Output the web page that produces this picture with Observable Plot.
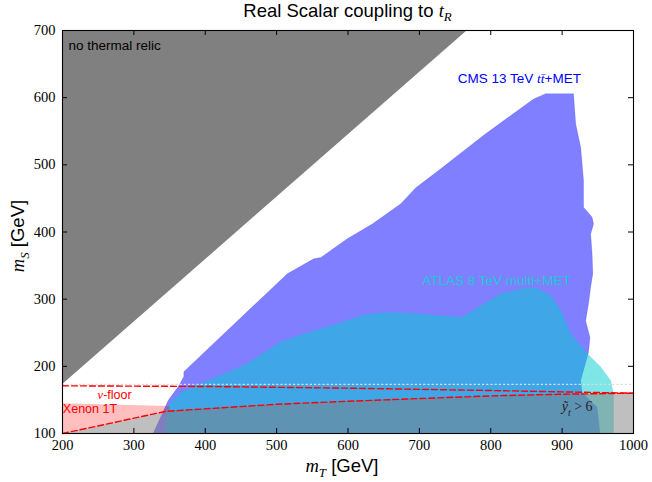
<!DOCTYPE html>
<html>
<head>
<meta charset="utf-8">
<script src="https://cdn.jsdelivr.net/npm/d3@7"></script>
<script src="https://cdn.jsdelivr.net/npm/@observablehq/plot@0.6"></script>
<style>
  body { margin: 0; background: #fff; }
  #title {
    height: 24px; line-height: 24px; padding-left: 62px; width: 571px;
    text-align: center; font: 18.5px "Liberation Sans", Arial, sans-serif; color: #000;
  }
  #title i { font-family: "Liberation Serif", serif; }
  #title sub { font-size: 70%; vertical-align: -0.3em; line-height: 0; font-style: italic; font-family: "Liberation Serif", serif; }
</style>
</head>
<body>
<div id="title">Real Scalar coupling to <i>t</i><sub>R</sub></div>
<div id="chart"></div>
<script>
// Axis ticks
const xTicks = [200, 300, 400, 500, 600, 700, 800, 900, 1000];
const yTicks = [100, 200, 300, 400, 500, 600, 700];

// Region without a thermal relic (m_T, m_S)
const relicMT = [200, 766, 200];
const relicMS = [174, 700, 700];

// CMS 13 TeV tt+MET exclusion contour
const cmsMT = [327, 348, 363, 370, 370, 515, 552, 562, 599, 634, 674, 695, 730, 790, 860, 877, 916,
               919, 926, 930, 930, 942, 944, 940, 942, 943, 940, 937, 933, 939, 937, 926, 928, 949, 953];
const cmsMS = [100, 149, 171, 185, 192, 338, 360, 362, 390, 412, 442, 466, 494, 544, 598, 606, 606,
               561, 526, 477, 437, 422, 412, 397, 368, 338, 318, 293, 268, 243, 221, 179, 161, 139, 100];

// ATLAS 8 TeV multijet+MET exclusion contour
const atlasMT = [344, 347, 354, 370, 393, 417, 459, 505, 538, 585, 622, 650, 688, 716, 760, 814, 842,
                 863, 884, 898, 912, 935, 954, 968, 972, 972];
const atlasMS = [100, 139, 149, 164, 174, 184, 204, 236, 248, 263, 276, 280, 279, 276, 273, 308, 315,
                 317, 305, 283, 248, 219, 199, 179, 159, 100];

// Xenon 1T bound and the neutrino floor
const xenonMT = [200, 345, 500, 600, 700, 800, 900, 1000];
const xenonMS = [100, 133, 143.5, 148, 152, 156, 158.5, 160];
const floorMT = [200, 400, 600, 800, 1000];
const floorMS = [171, 170, 167.5, 164, 160];

// Xenon 1T excluded band
const xenonBandMT = [200, 350, 350, 345, 200];
const xenonBandMS = [145, 141, 133.3, 133, 100];

// Non-perturbative coupling region (y_t > 6)
const perturbMT = [200, 345, 500, 600, 700, 800, 900, 1000, 1000, 200];
const perturbMS = [100, 133, 143.5, 148, 152, 156, 158.5, 160, 100, 100];

// Kinematic threshold
const thresholdMT = [200, 1000];
const thresholdMS = [173, 173];

// Annotations
const notes = [
  {key: "relic", label: "no thermal relic", mT: 208.5, mS: 677.5},
  {key: "cms", label: "CMS 13 TeV tt\u0304+MET", mT: 840, mS: 628.5},
  {key: "atlas", label: "ATLAS 8 TeV multi+MET", mT: 808, mS: 327},
  {key: "floor", label: "\u03bd-floor", mT: 273, mS: 157},
  {key: "xenon", label: "Xenon 1T", mT: 200.5, mS: 136.5},
  {key: "yt", label: "\u1ef9t > 6", mT: 921, mS: 140}
];

const pts = (xs, ys) => xs.map((x, i) => ({x, y: ys[i]}));
const note = k => notes.filter(d => d.key === k);
const sans = "Liberation Sans, Arial, sans-serif";
const serif = "Liberation Serif, serif";

const W = 652, H = 458;
const mL = 62, mR = 19, mT = 6, mB = 49;
const innerW = W - mL - mR, innerH = H - mT - mB;

const chart = Plot.plot({
  width: W, height: H,
  marginLeft: mL, marginRight: mR, marginTop: mT, marginBottom: mB,
  style: "background: white; color: black; overflow: visible;",
  x: {domain: [200, 1000], label: null, axis: null},
  y: {domain: [100, 700], label: null, axis: null},
  marks: [
    Plot.line(pts(relicMT, relicMS), {x: "x", y: "y", fill: "#808080", stroke: "none"}),
    Plot.line(pts(cmsMT, cmsMS), {x: "x", y: "y", fill: "blue", fillOpacity: 0.5, stroke: "blue", strokeOpacity: 0.15, strokeWidth: 1}),
    Plot.line(pts(atlasMT, atlasMS), {x: "x", y: "y", fill: "#00ced1", fillOpacity: 0.5, stroke: "#00ced1", strokeOpacity: 0.15, strokeWidth: 1}),
    Plot.line(pts(xenonBandMT, xenonBandMS), {x: "x", y: "y", fill: "red", fillOpacity: 0.25, stroke: "none"}),
    Plot.line(pts(perturbMT, perturbMS), {x: "x", y: "y", fill: "gray", fillOpacity: 0.5, stroke: "none"}),
    Plot.line(pts(thresholdMT, thresholdMS), {x: "x", y: "y", stroke: "#dcdcdc", strokeWidth: 1.2, strokeDasharray: "1.2,3"}),
    Plot.line(pts(floorMT, floorMS), {x: "x", y: "y", stroke: "red", strokeWidth: 1.4, strokeDasharray: "6,3"}),
    Plot.line(pts(xenonMT, xenonMS), {x: "x", y: "y", stroke: "red", strokeWidth: 1.4, strokeDasharray: "6,3"}),

    Plot.text(note("relic"), {x: "mT", y: "mS", text: "label", textAnchor: "start", fill: "black", fontFamily: sans, fontSize: 13.5}),
    Plot.text(note("cms"), {x: "mT", y: "mS", text: "label", fill: "blue", fontFamily: sans, fontSize: 13.5}),
    Plot.text(note("atlas"), {x: "mT", y: "mS", text: "label", fill: "#1ec8d6", fontFamily: sans, fontSize: 13.5}),
    Plot.text(note("floor"), {x: "mT", y: "mS", text: "label", fill: "red", fontFamily: sans, fontSize: 12.5}),
    Plot.text(note("xenon"), {x: "mT", y: "mS", text: "label", textAnchor: "start", fill: "red", fontFamily: sans, fontSize: 12.5}),
    Plot.text(note("yt"), {x: "mT", y: "mS", text: "label", fill: "#222", fontFamily: serif, fontSize: 14}),

    // inward tick marks on all four sides
    Plot.ruleX(xTicks, {insetTop: innerH - 5, stroke: "black"}),
    Plot.ruleX(xTicks, {insetBottom: innerH - 5, stroke: "black"}),
    Plot.ruleY(yTicks, {insetRight: innerW - 5, stroke: "black"}),
    Plot.ruleY(yTicks, {insetLeft: innerW - 5, stroke: "black"}),
    Plot.frame({stroke: "black", strokeWidth: 1.1}),

    // tick labels
    Plot.text(xTicks, {x: d => d, text: d => String(d), frameAnchor: "bottom", dy: 12, lineAnchor: "middle",
                       fontFamily: serif, fontSize: 14.5, fill: "black"}),
    Plot.text(yTicks, {y: d => d, text: d => String(d), frameAnchor: "left", dx: -7, textAnchor: "end",
                       fontFamily: serif, fontSize: 14.5, fill: "black"}),

    // axis titles
    Plot.text(["mT [GeV]"], {frameAnchor: "bottom", dy: 33, dx: -6, textAnchor: "middle", lineAnchor: "middle",
                             fontFamily: sans, fontSize: 18.5, fill: "black"}),
    Plot.text(["mS [GeV]"], {frameAnchor: "left", dx: -44.5, dy: 4, rotate: -90, textAnchor: "middle", lineAnchor: "middle",
                             fontFamily: sans, fontSize: 18.5, fill: "black"})
  ]
});

document.getElementById("chart").appendChild(chart);

// Typeset math pieces (italic serif symbols, subscripts) inside the text labels
const richText = {
  "mT [GeV]": [{t: "m", math: true}, {t: "T", math: true, sub: true}, {t: " [GeV]"}],
  "mS [GeV]": [{t: "m", math: true}, {t: "S", math: true, sub: true}, {t: " [GeV]"}],
  "CMS 13 TeV tt\u0304+MET": [{t: "CMS 13 TeV "}, {t: "tt\u0304", math: true}, {t: "+MET"}],
  "\u03bd-floor": [{t: "\u03bd", math: true}, {t: "-floor"}],
  "\u1ef9t > 6": [{t: "\u1ef9", math: true}, {t: "t", math: true, sub: true}, {t: " > 6", serif: true}]
};
d3.select(chart).selectAll("text").each(function () {
  const segs = richText[this.textContent];
  if (!segs) return;
  const el = d3.select(this);
  el.text(null);
  let shifted = 0;
  for (const s of segs) {
    const ts = el.append("tspan").text(s.t);
    if (s.math) ts.attr("font-style", "italic").attr("font-family", serif);
    if (s.serif) ts.attr("font-family", serif);
    if (s.sub) { ts.attr("font-size", "70%").attr("dy", 5); shifted = 5; }
    else if (shifted) { ts.attr("dy", -shifted); shifted = 0; }
  }
});
</script>
</body>
</html>
